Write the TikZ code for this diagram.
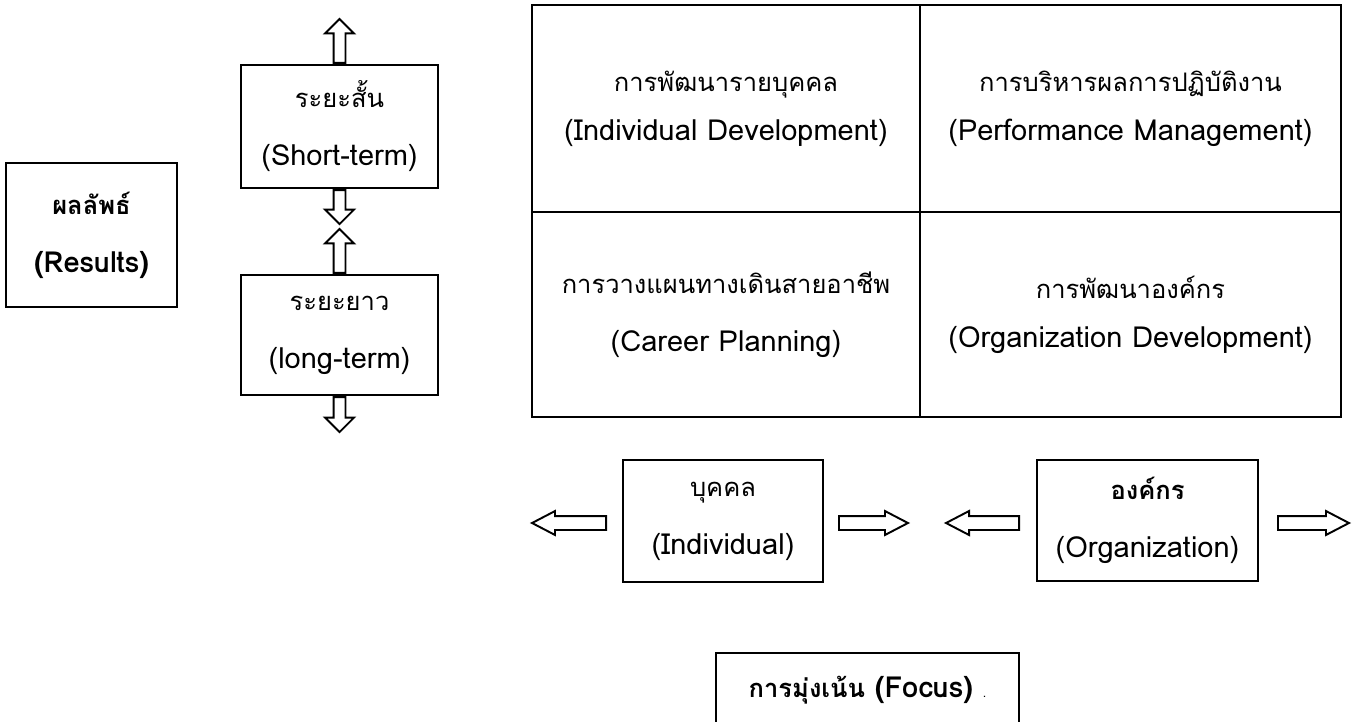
\documentclass[tikz,border=0pt]{standalone}
\usepackage{fontspec}
\setmainfont[Script=Thai]{Loma}
\newfontfamily\thaifont[Script=Thai, Scale=0.88]{Loma}
\usetikzlibrary{shapes.arrows}

\tikzset{
  box/.style={draw, line width=1.3pt, align=center, inner sep=0pt,
    font=\fontsize{16.5}{33}\selectfont},
  cell/.style={box, font=\fontsize{16.5}{28}\selectfont},
  varrow/.style={single arrow, draw, line width=1.1pt, fill=white,
    inner xsep=0pt, inner ysep=1mm, minimum width=5.4mm,
    single arrow head extend=1.7mm, single arrow tip angle=90},
  harrow/.style={single arrow, draw, line width=1.1pt, fill=white,
    inner xsep=0pt, inner ysep=1.2mm, minimum width=4.4mm,
    single arrow head extend=1mm, single arrow tip angle=55}
}

\begin{document}
\begin{tikzpicture}[x=0.2mm, y=-0.2mm]
  \useasboundingbox (0,0) rectangle (1353,721);

  % Results and time frame
  \node[box, minimum width=34.2mm, minimum height=28.8mm] (res) at (91.5,235)
    {\textbf{\thaifont ผลลัพธ์}\\\textbf{(Results)}};
  \node[box, minimum width=39.4mm, minimum height=24.6mm] (short) at (339.5,126.5)
    {{\thaifont ระยะสั้น}\\(Short-term)};
  \node[box, minimum width=39.4mm, minimum height=24mm] (long) at (339.5,335)
    {{\thaifont ระยะยาว}\\(long-term)};

  % Arrows on the time frame boxes
  \node[varrow, rotate=90, anchor=tail, minimum height=8.8mm] (shortup) at (short.north) {};
  \node[varrow, rotate=-90, anchor=tail, minimum height=6.8mm] (shortdown) at (short.south) {};
  \node[varrow, rotate=90, anchor=tail, minimum height=8.8mm] (longup) at (long.north) {};
  \node[varrow, rotate=-90, anchor=tail, minimum height=7mm] (longdown) at (long.south) {};

  % The four cells
  \node[cell, minimum width=77.6mm, minimum height=41.4mm] (indev) at (726,108.5)
    {{\thaifont การพัฒนารายบุคคล}\\(Individual Development)};
  \node[cell, minimum width=84.2mm, minimum height=41.4mm] (perf) at (1130.5,108.5)
    {{\thaifont การบริหารผลการปฏิบัติงาน}\\(Performance Management)};
  \node[box, minimum width=77.6mm, minimum height=41mm] (career) at (726,314.5)
    {{\thaifont การวางแผนทางเดินสายอาชีพ}\\(Career Planning)};
  \node[cell, minimum width=84.2mm, minimum height=41mm] (orgdev) at (1130.5,314.5)
    {{\thaifont การพัฒนาองค์กร}\\(Organization Development)};

  % Individual and organization
  \node[box, minimum width=40mm, minimum height=24.4mm] (ind) at (723,521)
    {{\thaifont บุคคล}\\(Individual)};
  \node[box, minimum width=44.2mm, minimum height=24.2mm] (org) at (1147.5,520.5)
    {\textbf{\thaifont องค์กร}\\(Organization)};

  \node[harrow, rotate=180, anchor=tail, minimum height=14.8mm] (indleft) at (607,523) {};
  \node[harrow, anchor=tail, minimum height=13.8mm] (indright) at (838,523) {};
  \node[harrow, rotate=180, anchor=tail, minimum height=14.6mm] (orgleft) at (1020,523) {};
  \node[harrow, anchor=tail, minimum height=14.2mm] (orgright) at (1277,523) {};

  % Focus
  \node[box, minimum width=60.6mm, minimum height=18.8mm] (focus) at (867.5,700) {};
  \node[font=\fontsize{16.5}{33}\selectfont] (focustext) at (867.5,690)
    {\textbf{{\thaifont การมุ่งเน้น} (Focus)}~{\scriptsize .}};
\end{tikzpicture}
\end{document}
